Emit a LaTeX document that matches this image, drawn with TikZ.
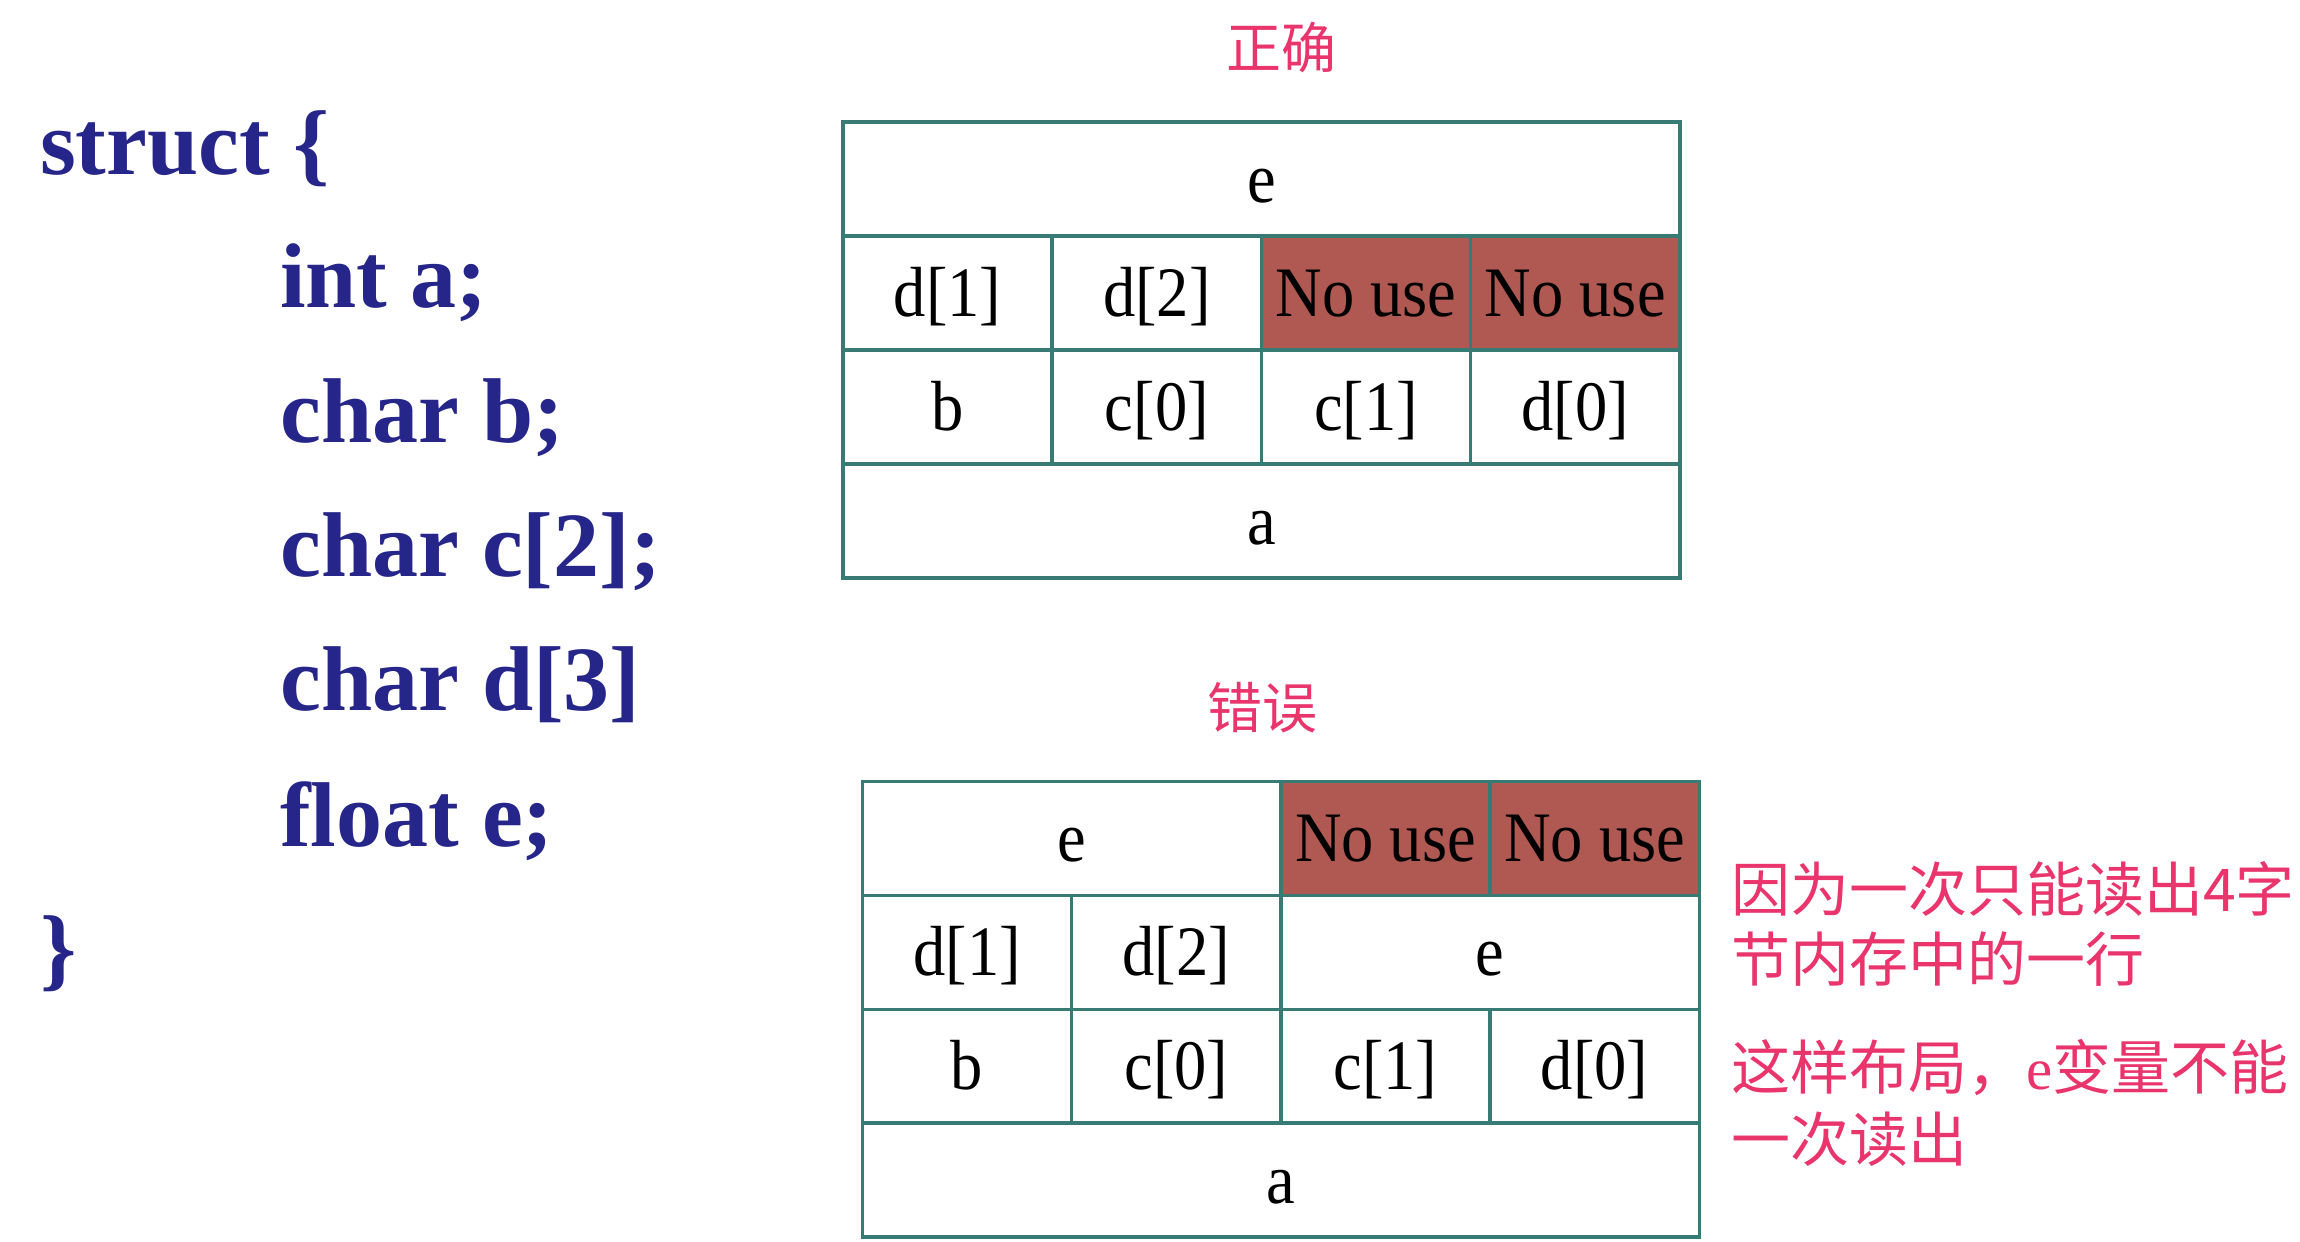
\documentclass[tikz,border=0pt]{standalone}
\usepackage{fontspec}
\setmainfont{Liberation Serif}
\newfontfamily\cjk{Noto Sans CJK SC}
\definecolor{codeblue}{RGB}{38,38,138}
\definecolor{notered}{RGB}{234,52,108}
\definecolor{gridteal}{RGB}{56,122,116}
\definecolor{nousefill}{RGB}{176,88,82}
\newcommand\tallt[1]{\scalebox{1}[1.1]{#1}}
\begin{document}
\begin{tikzpicture}[x=1pt,y=-1pt,
  cell/.style={draw=gridteal, line width=3.5pt, inner sep=0pt, minimum height=114pt,
    text height=60pt, text depth=14pt,
    font=\fontsize{64.5}{70}\selectfont},
  w1/.style={minimum width=209.2pt},
  w2/.style={minimum width=418.4pt},
  w4/.style={minimum width=836.8pt},
  nouse/.style={fill=nousefill},
  code/.style={anchor=base west, inner sep=0pt, text=codeblue,
    font=\fontsize{92}{100}\selectfont\bfseries},
  note/.style={anchor=west, inner sep=0pt, text=notered,
    font=\fontsize{59}{70}\selectfont},
  title/.style={inner sep=0pt, text=notered, font=\fontsize{55}{60}\selectfont\cjk}]
\useasboundingbox[fill=white] (0,0) rectangle (2300,1242);

% code
\node[code] (l0) at (40,174) {struct \{};
\node[code] (l1) at (280,307) {int a;};
\node[code] (l2) at (280,442) {char b;};
\node[code] (l3) at (280,576) {char c[2];};
\node[code] (l4) at (280,710) {char d[3]};
\node[code] (l5) at (280,846) {float e;};
\node[code] (l6) at (40,979) {\}};

% titles
\node[title] (t1) at (1281,48) {正确};
\node[title] (t2) at (1262,708) {错误};

% correct layout (x 843 .. 1679.8)
\node[cell,w4] (ce) at (1261.4,179) {\tallt{e}};
\node[cell,w1] (cd1) at (947.6,293) {\tallt{d[1]}};
\node[cell,w1] (cd2) at (1156.8,293) {\tallt{d[2]}};
\node[cell,w1,nouse] (cn1) at (1366.0,293) {\tallt{No use}};
\node[cell,w1,nouse] (cn2) at (1575.2,293) {\tallt{No use}};
\node[cell,w1] (cb) at (947.6,407) {\tallt{b}};
\node[cell,w1] (cc0) at (1156.8,407) {\tallt{c[0]}};
\node[cell,w1] (cc1) at (1366.0,407) {\tallt{c[1]}};
\node[cell,w1] (cd0) at (1575.2,407) {\tallt{d[0]}};
\node[cell,w4] (ca) at (1261.4,521) {\tallt{a}};

% wrong layout (x 862.5 .. 1699.3)
\node[cell,w2] (we1) at (1071.7,838.5) {\tallt{e}};
\node[cell,w1,nouse] (wn1) at (1385.5,838.5) {\tallt{No use}};
\node[cell,w1,nouse] (wn2) at (1594.7,838.5) {\tallt{No use}};
\node[cell,w1] (wd1) at (967.1,952.5) {\tallt{d[1]}};
\node[cell,w1] (wd2) at (1176.3,952.5) {\tallt{d[2]}};
\node[cell,w2] (we2) at (1490.1,952.5) {\tallt{e}};
\node[cell,w1] (wb) at (967.1,1066.5) {\tallt{b}};
\node[cell,w1] (wc0) at (1176.3,1066.5) {\tallt{c[0]}};
\node[cell,w1] (wc1) at (1385.5,1066.5) {\tallt{c[1]}};
\node[cell,w1] (wd0) at (1594.7,1066.5) {\tallt{d[0]}};
\node[cell,w4] (wa) at (1280.9,1180) {\tallt{a}};

% notes
\node[note] (n1) at (1731,889) {{\cjk 因为一次只能读出4字}};
\node[note] (n2) at (1731,959) {{\cjk 节内存中的一行}};
\node[note] (n3) at (1731,1068) {{\cjk 这样布局，}e{\cjk 变量不能}};
\node[note] (n4) at (1731,1139) {{\cjk 一次读出}};
\end{tikzpicture}
\end{document}
